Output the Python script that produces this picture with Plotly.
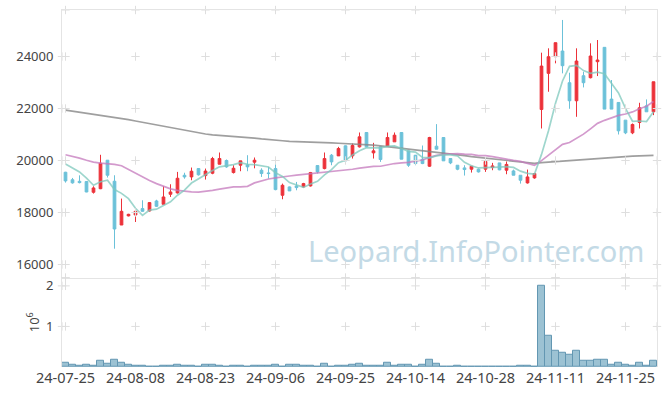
import plotly.graph_objects as go
import pandas as pd

# ---------------- data ----------------
dates = [
    "24-07-25", "24-07-26", "24-07-29", "24-07-30", "24-07-31",
    "24-08-01", "24-08-02", "24-08-05", "24-08-06", "24-08-07", "24-08-08", "24-08-09",
    "24-08-12", "24-08-13", "24-08-14", "24-08-16", "24-08-19", "24-08-20", "24-08-21",
    "24-08-22", "24-08-23", "24-08-26", "24-08-27", "24-08-28", "24-08-29", "24-08-30",
    "24-09-02", "24-09-03", "24-09-04", "24-09-05", "24-09-06", "24-09-09", "24-09-10",
    "24-09-11", "24-09-12", "24-09-13", "24-09-19", "24-09-20", "24-09-23", "24-09-24",
    "24-09-25", "24-09-26", "24-09-27", "24-09-30",
    "24-10-02", "24-10-04", "24-10-07", "24-10-08", "24-10-10", "24-10-11", "24-10-14",
    "24-10-15", "24-10-16", "24-10-17", "24-10-18", "24-10-21", "24-10-22", "24-10-23",
    "24-10-24", "24-10-25", "24-10-28", "24-10-29", "24-10-30", "24-10-31",
    "24-11-01", "24-11-04", "24-11-05", "24-11-06", "24-11-07", "24-11-08", "24-11-11",
    "24-11-12", "24-11-13", "24-11-14", "24-11-15", "24-11-18", "24-11-19", "24-11-20",
    "24-11-21", "24-11-22", "24-11-25", "24-11-26", "24-11-27", "24-11-28", "24-11-29",
]

opens = [19549, 19260, 19200, 19190, 18778, 18915, 20012, 19202, 17519, 17870,
         17905, 18150, 18059, 18444, 18316, 18701, 18753, 19433, 19369, 19690,
         19420, 19510, 19857, 20000, 19537, 19819, 19832, 19935, 19626, 19523,
         19690, 18663, 18984, 19022, 18984, 19022, 19806, 19690, 20204, 20178,
         20564, 20178, 20525, 21078, 20294, 20525, 20551, 20718, 21078, 20371,
         20204, 20051, 19780, 20551, 20885, 20076, 19819, 19716, 19665, 19665,
         19665, 19729, 19909, 19626, 19600, 19434, 19138, 19331, 21964, 23353,
         23994, 24212, 22992, 22298, 23262, 23185, 23801, 24354, 22363, 22234,
         21553, 21065, 21463, 22105, 21874]
highs = [19565, 19330, 19430, 19210, 19010, 20220, 20020, 19433, 18535, 17950,
         18150, 18470, 18400, 18490, 19010, 19087, 19562, 19530, 19729, 19700,
         19690, 20140, 20308, 20040, 19819, 19987, 20204, 20116, 19700, 19755,
         19883, 19112, 19000, 19176, 19140, 19560, 19806, 20308, 20250, 20525,
         20580, 20654, 21078, 21090, 20680, 20530, 21078, 21078, 21078, 20380,
         20210, 20577, 20911, 21399, 20885, 20076, 19819, 19819, 19780, 19690,
         19961, 19909, 19909, 19961, 19650, 19434, 19652, 19520, 24148, 24316,
         24533, 25407, 23377, 24316, 23416, 24508, 24636, 24354, 23095, 22234,
         21553, 21425, 22221, 22350, 23030]
lows = [19150, 19110, 19120, 18780, 18728, 18900, 19345, 16608, 17519, 17850,
        17635, 18030, 18040, 18210, 18316, 18598, 18730, 19300, 19240, 19420,
        19267, 19472, 19857, 19720, 19500, 19588, 19588, 19700, 19369, 19306,
        18855, 18509, 18830, 18855, 18960, 19000, 19500, 19660, 19819, 20178,
        19970, 20076, 20500, 20510, 20076, 19947, 20525, 20718, 20051, 19755,
        19819, 19860, 19755, 20435, 19987, 19860, 19626, 19421, 19536, 19536,
        19562, 19626, 19626, 19472, 19434, 19112, 19112, 19300, 21232, 22645,
        23738, 23353, 21990, 21681, 22812, 23160, 23249, 21977, 21977, 21001,
        21014, 21014, 21232, 21874, 21746]
closes = [19215, 19140, 19150, 18790, 18945, 19895, 19433, 17365, 18046, 17930,
          18046, 18046, 18381, 18239, 18598, 18791, 19318, 19369, 19588, 19450,
          19595, 20076, 20076, 19755, 19703, 19987, 19755, 20012, 19498, 19498,
          18881, 19048, 18830, 18958, 19112, 19536, 19562, 20076, 19947, 20461,
          19987, 20577, 20911, 20525, 20371, 20039, 20885, 20975, 20051, 19819,
          19883, 19883, 20885, 20435, 19987, 19909, 19665, 19652, 19780, 19562,
          19961, 19793, 19640, 19850, 19434, 19241, 19369, 19498, 23634, 23994,
          24533, 23647, 22298, 23827, 22992, 24020, 23866, 21977, 21977, 21142,
          21065, 21386, 22028, 21874, 23030]
volumes = [116000, 66000, 41000, 66000, 41000, 149000, 74000, 190000, 99000, 66000,
           41000, 41000, 17000, 17000, 41000, 41000, 66000, 41000, 41000, 17000,
           66000, 66000, 40000, 17000, 40000, 40000, 17000, 40000, 40000, 40000,
           66000, 17000, 66000, 66000, 40000, 40000, 17000, 90000, 17000, 40000,
           40000, 66000, 90000, 40000, 40000, 40000, 115000, 40000, 66000, 66000,
           17000, 66000, 190000, 90000, 17000, 17000, 40000, 17000, 0, 17000,
           17000, 17000, 17000, 17000, 17000, 40000, 40000, 17000, 2010000, 760000,
           400000, 350000, 290000, 410000, 150000, 150000, 190000, 190000, 66000, 116000,
           66000, 41000, 116000, 41000, 165000]

# moving-average values before enough in-window history exists
ma5_lead = [19870, 19700, 19560, 19320]
ma20_lead = [20220, 20160, 20090, 20010, 19940, 19900, 19880, 19850, 19800, 19650,
             19500, 19370, 19230, 19110, 19000, 18910, 18850, 18810, 18795]
ma120 = [21940, 21900, 21860, 21820, 21785, 21750, 21710, 21670, 21620, 21570,
         21520, 21470, 21410, 21350, 21300, 21250, 21200, 21160, 21110, 21060,
         21020, 20990, 20970, 20955, 20940, 20915, 20890, 20860, 20830, 20800,
         20780, 20760, 20740, 20725, 20710, 20700, 20690, 20685, 20675, 20665,
         20655, 20645, 20635, 20615, 20590, 20565, 20535, 20505, 20475, 20445,
         20415, 20385, 20360, 20335, 20300, 20265, 20230, 20190, 20150, 20120,
         20090, 20060, 20035, 20010, 19980, 19955, 19920, 19890, 19920, 19940,
         19960, 19980, 20000, 20020, 20040, 20060, 20090, 20105, 20120, 20135,
         20150, 20165, 20180, 20190, 20200]

tick_labels = ["24-07-25", "24-08-08", "24-08-23", "24-09-06", "24-09-25",
               "24-10-14", "24-10-28", "24-11-11", "24-11-25"]
price_ticks = [16000, 18000, 20000, 22000, 24000]
price_tick_text = ["16000", "18000", "20000", "22000", "24000"]
vol_ticks = [1000000, 2000000]
vol_tick_text = ["1", "2"]

# ---------------- derived ----------------
idx = list(range(len(dates)))
tickvals = [dates.index(t) for t in tick_labels]
cs = pd.Series(closes)
ma5 = ma5_lead + cs.rolling(5).mean().tolist()[4:]
ma20 = ma20_lead + cs.rolling(20).mean().tolist()[19:]

XR = [-0.5, len(dates) - 0.5]
YR = [15490, 25790]
VR = [0, 2200000]

INC = "#ec3139"
DEC = "#6bc1d9"
GRID = "#dedede"
BORDER = "#e4e4e4"
FONT = "Noto Sans"
TXT = "#444444"

fig = go.Figure()

fig.add_trace(go.Candlestick(
    x=idx, open=opens, high=highs, low=lows, close=closes,
    increasing=dict(line=dict(color=INC, width=1), fillcolor=INC),
    decreasing=dict(line=dict(color=DEC, width=1), fillcolor=DEC),
    whiskerwidth=0, xaxis="x", yaxis="y", showlegend=False, hoverinfo="skip"))

fig.add_trace(go.Scatter(x=idx, y=ma120, mode="lines", xaxis="x", yaxis="y",
                         line=dict(color="rgba(135,135,135,0.8)", width=1.7),
                         showlegend=False, hoverinfo="skip"))
fig.add_trace(go.Scatter(x=idx, y=ma20, mode="lines", xaxis="x", yaxis="y",
                         line=dict(color="rgba(196,120,188,0.75)", width=1.7),
                         showlegend=False, hoverinfo="skip"))
fig.add_trace(go.Scatter(x=idx, y=ma5, mode="lines", xaxis="x", yaxis="y",
                         line=dict(color="rgba(125,200,188,0.75)", width=1.7),
                         showlegend=False, hoverinfo="skip"))

fig.add_trace(go.Bar(x=idx, y=volumes, xaxis="x2", yaxis="y2", width=1.0,
                     marker=dict(color="#9cc2d3", line=dict(color="#6397b2", width=1)),
                     showlegend=False, hoverinfo="skip"))

# grid "+" marks at tick intersections
gx = tickvals + XR
main_pts = [(x, y) for x in gx for y in price_ticks] + [(x, y) for x in tickvals for y in YR]
vol_pts = [(x, y) for x in gx for y in vol_ticks] + [(x, VR[1]) for x in tickvals]
cross = dict(symbol="cross-thin", size=6, line=dict(color=GRID, width=1))
fig.add_trace(go.Scatter(x=[p[0] for p in main_pts], y=[p[1] for p in main_pts],
                         mode="markers", marker=cross, xaxis="x", yaxis="y",
                         cliponaxis=False, showlegend=False, hoverinfo="skip"))
fig.add_trace(go.Scatter(x=[p[0] for p in vol_pts], y=[p[1] for p in vol_pts],
                         mode="markers", marker=cross, xaxis="x2", yaxis="y2",
                         cliponaxis=False, showlegend=False, hoverinfo="skip"))

fig.update_layout(
    width=665, height=396,
    margin=dict(l=62, r=8, t=10, b=29),
    paper_bgcolor="white", plot_bgcolor="white",
    font=dict(family=FONT, size=13, color=TXT),
    bargap=0, boxgap=0.45, showlegend=False,
    xaxis=dict(domain=[0, 1], anchor="y", range=XR, matches="x2",
               showticklabels=False, showgrid=False, zeroline=False,
               showline=True, mirror=True, linecolor=BORDER, linewidth=1,
               rangeslider=dict(visible=False), ticks=""),
    yaxis=dict(domain=[0.25, 1], anchor="x", range=YR, tickvals=price_ticks,
               ticktext=price_tick_text,
               showgrid=False, zeroline=False, showline=True, mirror=True,
               linecolor=BORDER, linewidth=1, ticks="", ticklabelstandoff=5,
               tickfont=dict(size=13, color=TXT)),
    xaxis2=dict(domain=[0, 1], anchor="y2", range=XR, tickvals=tickvals,
                ticktext=tick_labels, showgrid=False, zeroline=False,
                showline=False, ticks="", tickfont=dict(size=14.5, color=TXT)),
    yaxis2=dict(domain=[0, 0.25], anchor="x2", range=VR, tickvals=vol_ticks,
                ticktext=vol_tick_text, showgrid=False, zeroline=False,
                showline=True, mirror=True, linecolor=BORDER, linewidth=1,
                ticks="", ticklabelstandoff=5, tickfont=dict(size=13, color=TXT)),
    annotations=[
        dict(text="10<sup>6</sup>", xref="paper", yref="paper", x=-0.05, y=0.126,
             textangle=-90, showarrow=False, font=dict(size=13, color=TXT),
             xanchor="center", yanchor="middle"),
        dict(text="Leopard.InfoPointer.com", xref="paper", yref="paper",
             x=0.983, y=0.325, xanchor="right", yanchor="middle", showarrow=False,
             font=dict(size=29, color="#c3dae6", family=FONT)),
    ],
)

fig.write_html("out.html", config={"displayModeBar": False},
               post_script="document.body.style.margin='0';")
